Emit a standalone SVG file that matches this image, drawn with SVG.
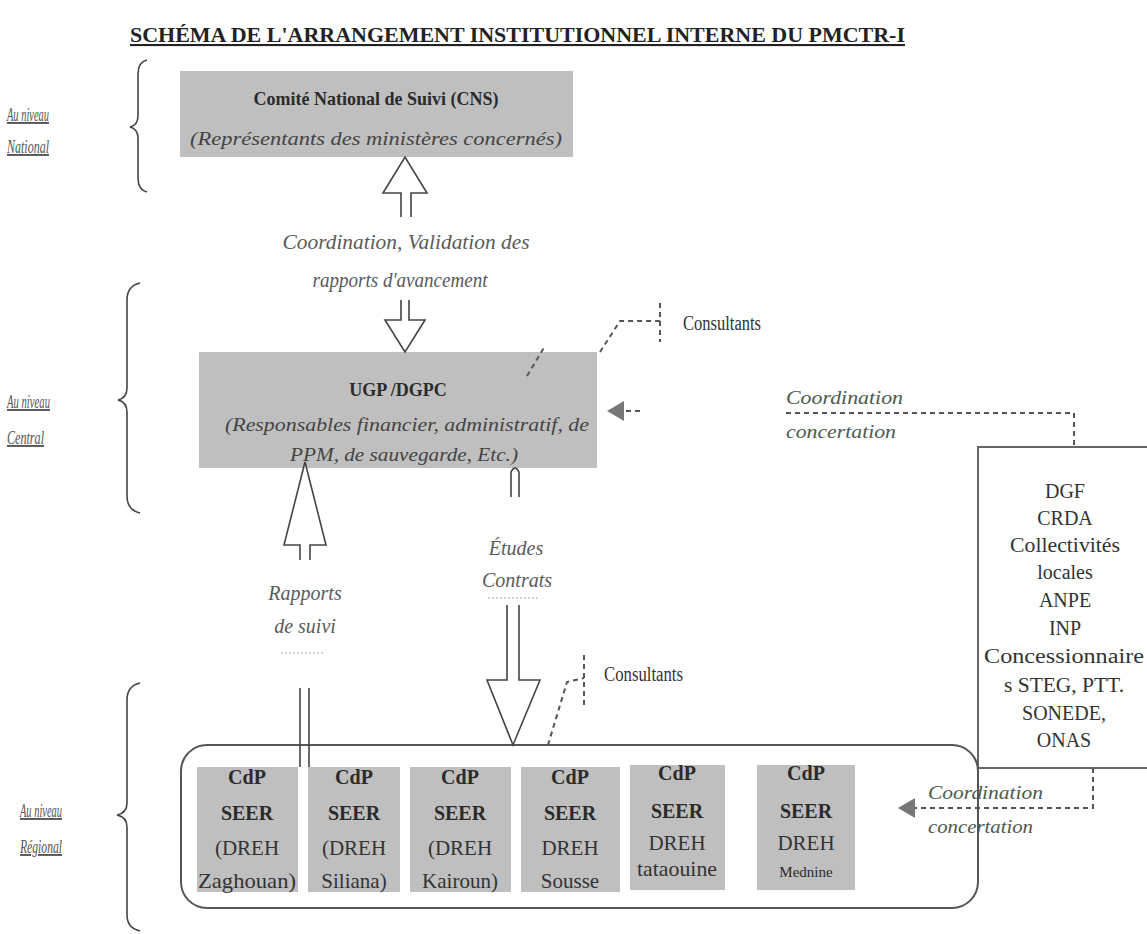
<svg xmlns="http://www.w3.org/2000/svg" width="1147" height="934" viewBox="0 0 1147 934">
<style>
text{font-family:"Liberation Serif","Times New Roman",serif;fill:#2b2b2b}
.t{font-weight:bold;font-size:21px;text-decoration:underline;fill:#222}
.lvl{font-style:italic;font-size:19px;fill:#555;text-decoration:underline}
.box{fill:#bfbfbf;stroke:none}
.bt{font-weight:bold;font-size:18px;text-anchor:middle}
.it{font-style:italic;font-size:19px;text-anchor:middle;fill:#444}
.lab{font-style:italic;font-size:20px;text-anchor:middle;fill:#5a5a5a}
.gl{font-style:italic;font-size:19px;fill:#4d5a4f}
.cons{font-size:20px;fill:#333}
.cell{fill:#bfbfbf}
.ct{font-weight:bold;font-size:20px;text-anchor:middle}
.cr{font-size:21px;text-anchor:middle;fill:#333}
.dg{font-size:20px;text-anchor:middle;fill:#333}
.brace{fill:none;stroke:#444;stroke-width:1.6}
.harrow{fill:#fff;stroke:#444;stroke-width:1.6;stroke-linejoin:miter}
.dash{fill:none;stroke:#555;stroke-width:2;stroke-dasharray:5,4}
.dots{fill:none;stroke:#aaa;stroke-width:1.2;stroke-dasharray:2,2}
.tri{fill:#777}
</style>

<text class="t" x="130" y="42" textLength="775" lengthAdjust="spacingAndGlyphs">SCHÉMA DE L'ARRANGEMENT INSTITUTIONNEL INTERNE DU PMCTR-I</text>

<g id="levels">
  <path class="brace" d="M147 60 Q138 62 138 74 L138 116 Q138 125 130 127 Q138 129 138 138 L138 178 Q138 190 147 192"/>
  <text class="lvl" x="7" y="121" textLength="42" lengthAdjust="spacingAndGlyphs">Au niveau</text>
  <text class="lvl" x="7" y="153" textLength="42" lengthAdjust="spacingAndGlyphs">National</text>
  <path class="brace" d="M140 283 Q127 286 127 300 L127 388 Q127 398 118 400 Q127 402 127 412 L127 496 Q127 510 140 513"/>
  <text class="lvl" x="7" y="408" textLength="43" lengthAdjust="spacingAndGlyphs">Au niveau</text>
  <text class="lvl" x="7" y="444" textLength="37" lengthAdjust="spacingAndGlyphs">Central</text>
  <path class="brace" d="M140 683 Q127 686 127 700 L127 803 Q127 813 117 815 Q127 817 127 827 L127 915 Q127 928 140 931"/>
  <text class="lvl" x="20" y="817" textLength="42" lengthAdjust="spacingAndGlyphs">Au niveau</text>
  <text class="lvl" x="20" y="853" textLength="42" lengthAdjust="spacingAndGlyphs">Régional</text>
</g>

<g id="cns">
  <rect class="box" x="180" y="71" width="393" height="86"/>
  <text class="bt" x="376" y="105" textLength="245" lengthAdjust="spacingAndGlyphs">Comité National de Suivi (CNS)</text>
  <text class="it" x="376" y="145" font-size="19" textLength="372" lengthAdjust="spacingAndGlyphs">(Représentants des ministères concernés)</text>
</g>

<g id="ugp">
  <rect class="box" x="199" y="352" width="398" height="116"/>
  <text class="bt" x="398" y="396" font-size="20">UGP /DGPC</text>
  <text class="it" x="407" y="431" font-size="20" textLength="364" lengthAdjust="spacingAndGlyphs">(Responsables financier, administratif, de</text>
  <text class="it" x="404" y="461" font-size="20" textLength="228" lengthAdjust="spacingAndGlyphs">PPM, de sauvegarde, Etc.)</text>
</g>

<g id="partners">
  <rect x="978" y="447" width="175" height="321" fill="#fff" stroke="#666" stroke-width="2"/>
  <text class="dg" x="1065" y="498">DGF</text>
  <text class="dg" x="1065" y="525">CRDA</text>
  <text class="dg" x="1065" y="552" textLength="110" lengthAdjust="spacingAndGlyphs">Collectivités</text>
  <text class="dg" x="1065" y="579">locales</text>
  <text class="dg" x="1065" y="607">ANPE</text>
  <text class="dg" x="1065" y="635">INP</text>
  <text class="dg" x="1064" y="663" textLength="160" lengthAdjust="spacingAndGlyphs">Concessionnaire</text>
  <text class="dg" x="1064" y="692" textLength="120" lengthAdjust="spacingAndGlyphs">s STEG, PTT.</text>
  <text class="dg" x="1064" y="720">SONEDE,</text>
  <text class="dg" x="1064" y="747">ONAS</text>
</g>

<g id="regional">
  <rect x="181" y="745" width="797" height="163" rx="26" fill="#fff" stroke="#555" stroke-width="2"/>
  <g id="c1">
    <rect class="cell" x="197" y="767" width="101" height="125"/>
    <text class="ct" x="247" y="784">CdP</text>
    <text class="ct" x="247" y="820">SEER</text>
    <text class="cr" x="247" y="855">(DREH</text>
    <text class="cr" x="247" y="888" textLength="98" lengthAdjust="spacingAndGlyphs">Zaghouan)</text>
  </g>
  <g id="c2">
    <rect class="cell" x="308" y="767" width="92" height="125"/>
    <text class="ct" x="354" y="784">CdP</text>
    <text class="ct" x="354" y="820">SEER</text>
    <text class="cr" x="354" y="855">(DREH</text>
    <text class="cr" x="354" y="888">Siliana)</text>
  </g>
  <g id="c3">
    <rect class="cell" x="410" y="767" width="101" height="125"/>
    <text class="ct" x="460" y="784">CdP</text>
    <text class="ct" x="460" y="820">SEER</text>
    <text class="cr" x="460" y="855">(DREH</text>
    <text class="cr" x="460" y="888">Kairoun)</text>
  </g>
  <g id="c4">
    <rect class="cell" x="521" y="767" width="99" height="125"/>
    <text class="ct" x="570" y="784">CdP</text>
    <text class="ct" x="570" y="820">SEER</text>
    <text class="cr" x="570" y="855">DREH</text>
    <text class="cr" x="570" y="888">Sousse</text>
  </g>
  <g id="c5">
    <rect class="cell" x="630" y="765" width="95" height="125"/>
    <text class="ct" x="677" y="780">CdP</text>
    <text class="ct" x="677" y="818">SEER</text>
    <text class="cr" x="677" y="850">DREH</text>
    <text class="cr" x="677" y="876" font-size="17" textLength="80" lengthAdjust="spacingAndGlyphs">tataouine</text>
  </g>
  <g id="c6">
    <rect class="cell" x="757" y="765" width="98" height="125"/>
    <text class="ct" x="806" y="780">CdP</text>
    <text class="ct" x="806" y="818">SEER</text>
    <text class="cr" x="806" y="850">DREH</text>
    <text x="806" y="877" font-family="'DejaVu Sans','Noto Sans',sans-serif" font-size="15" text-anchor="middle" fill="#444">Mednine</text>
  </g>
</g>

<g id="connectors">
  <path class="harrow" d="M401 217 L401 193 L383 193 L405 157 L427 193 L411 193 L411 217"/>
  <text class="lab" x="406" y="249" textLength="247" lengthAdjust="spacingAndGlyphs">Coordination, Validation des</text>
  <text class="lab" x="400" y="287" textLength="175" lengthAdjust="spacingAndGlyphs">rapports d'avancement</text>
  <path class="harrow" d="M401 300 L401 320 L385 320 L405 352 L425 320 L409 320 L409 300"/>

  <path class="harrow" d="M300 560 L300 545 L284 545 L305 462 L326 545 L310 545 L310 560"/>
  <text class="lab" x="305" y="600" font-size="21">Rapports</text>
  <text class="lab" x="305" y="633" font-size="21">de suivi</text>
  <path class="dots" d="M281 653 L323 653"/>
  <path fill="none" stroke="#444" stroke-width="1.6" d="M300 688 L300 767 M309 688 L309 767"/>

  <path fill="#fff" stroke="#444" stroke-width="1.6" d="M511 497 L511 472 Q515 464 519 472 L519 497"/>
  <text class="lab" x="516" y="555">Études</text>
  <text class="lab" x="517" y="587">Contrats</text>
  <path class="dots" d="M488 598 L540 598"/>
  <path class="harrow" d="M507 605 L507 680 L487 680 L513 745 L540 680 L519 680 L519 605"/>

  <path class="dash" d="M600 352 L620 321 L660 321"/>
  <path class="dash" d="M660 303 L660 342"/>
  <path class="dash" d="M527 376 L545 346"/>
  <text class="cons" x="683" y="330" textLength="78" lengthAdjust="spacingAndGlyphs">Consultants</text>

  <path class="dash" d="M548 745 L567 682 L584 678"/>
  <path class="dash" d="M584 655 L584 705"/>
  <text class="cons" x="604" y="681" textLength="79" lengthAdjust="spacingAndGlyphs">Consultants</text>

  <path class="dash" d="M640 411 L622 411"/>
  <polygon class="tri" points="607,411 624,401 624,421"/>
  <text class="gl" x="786" y="404" textLength="117" lengthAdjust="spacingAndGlyphs">Coordination</text>
  <path class="dash" d="M786 413 L1074 413 L1074 447"/>
  <text class="gl" x="786" y="438" textLength="110" lengthAdjust="spacingAndGlyphs">concertation</text>

  <text class="gl" x="928" y="799" textLength="115" lengthAdjust="spacingAndGlyphs">Coordination</text>
  <path class="dash" d="M1093 768 L1093 808 L914 808"/>
  <polygon class="tri" points="898,808 915,798 915,818"/>
  <text class="gl" x="928" y="833" textLength="105" lengthAdjust="spacingAndGlyphs">concertation</text>
</g>
</svg>
